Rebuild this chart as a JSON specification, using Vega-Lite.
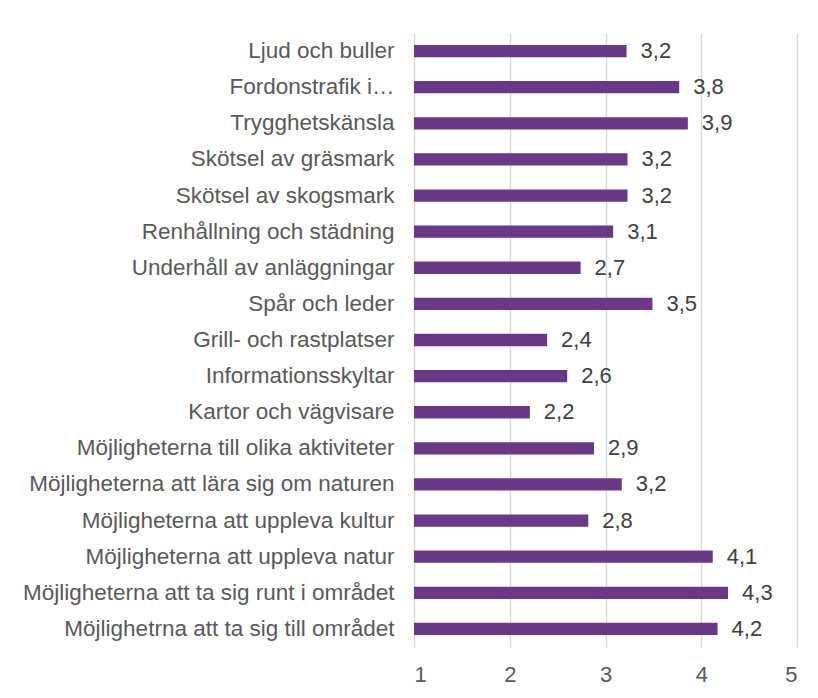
{
  "$schema": "https://vega.github.io/schema/vega-lite/v6.json",
  "width": 383,
  "height": 614,
  "autosize": {"type": "none"},
  "padding": {"left": 414, "top": 33, "right": 21, "bottom": 51},
  "background": "white",
  "config": {
    "locale": {"number": {"decimal": ",", "thousands": " ", "grouping": [3], "currency": ["", " kr"]}},
    "view": {"stroke": null},
    "font": "Liberation Sans"
  },
  "data": {
    "values": [
      {"kategori": "Ljud och buller", "varde": 3.22},
      {"kategori": "Fordonstrafik i…", "varde": 3.77},
      {"kategori": "Trygghetskänsla", "varde": 3.86},
      {"kategori": "Skötsel av gräsmark", "varde": 3.23},
      {"kategori": "Skötsel av skogsmark", "varde": 3.23},
      {"kategori": "Renhållning och städning", "varde": 3.08},
      {"kategori": "Underhåll av anläggningar", "varde": 2.74},
      {"kategori": "Spår och leder", "varde": 3.49},
      {"kategori": "Grill- och rastplatser", "varde": 2.39},
      {"kategori": "Informationsskyltar", "varde": 2.6},
      {"kategori": "Kartor och vägvisare", "varde": 2.21},
      {"kategori": "Möjligheterna till olika aktiviteter", "varde": 2.88},
      {"kategori": "Möjligheterna att lära sig om naturen", "varde": 3.17},
      {"kategori": "Möjligheterna att uppleva kultur", "varde": 2.82},
      {"kategori": "Möjligheterna att uppleva natur", "varde": 4.12},
      {"kategori": "Möjligheterna att ta sig runt i området", "varde": 4.28},
      {"kategori": "Möjlighetrna att ta sig till området", "varde": 4.17}
    ]
  },
  "encoding": {
    "y": {
      "field": "kategori",
      "type": "nominal",
      "sort": null,
      "scale": {"paddingInner": 0.66, "paddingOuter": 0.33},
      "axis": {
        "title": null,
        "ticks": false,
        "domain": false,
        "labelFontSize": 22.5,
        "labelColor": "#595959",
        "labelPadding": 20,
        "labelLimit": 0
      }
    },
    "x": {
      "field": "varde",
      "type": "quantitative",
      "scale": {"domain": [1, 5], "nice": false, "zero": false},
      "axis": {
        "title": null,
        "values": [1, 2, 3, 4, 5],
        "format": "d",
        "ticks": false,
        "domain": false,
        "grid": true,
        "gridColor": "#d9d9d9",
        "gridWidth": 1.5,
        "labelFontSize": 22,
        "labelColor": "#595959",
        "labelPadding": 17
      }
    }
  },
  "layer": [
    {"mark": {"type": "bar", "color": "#693886"}, "encoding": {"x2": {"datum": 1}}},
    {
      "mark": {"type": "text", "align": "left", "baseline": "middle", "dx": 14, "fontSize": 22, "color": "#404040"},
      "encoding": {"text": {"field": "varde", "type": "quantitative", "format": ".1f"}}
    }
  ]
}
